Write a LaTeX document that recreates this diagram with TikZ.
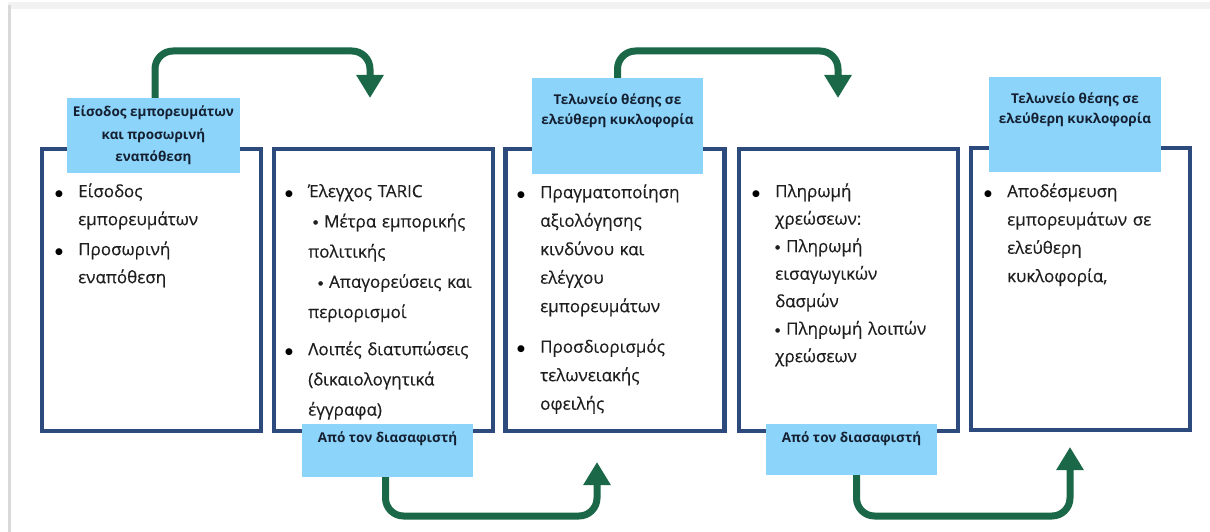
\documentclass[tikz,border=0pt]{standalone}
\usepackage{fontspec}
\setmainfont{Open Sans}
\newfontfamily\bodyfont{Open Sans}[FakeBold=0.35]
\newfontfamily\symfont{DejaVu Sans}
\usetikzlibrary{arrows.meta}
\definecolor{navy}{RGB}{44,74,124}
\definecolor{lblue}{RGB}{140,212,250}
\definecolor{flowgreen}{RGB}{26,104,72}
\definecolor{txt}{RGB}{30,30,30}
\definecolor{lbltxt}{RGB}{20,32,50}
\newcommand\itm[1]{\hangindent=23pt\hangafter=1\noindent\makebox[23pt][l]{\rule{0pt}{15pt}\raisebox{1pt}{\color{black}\symfont\fontsize{9}{9}\selectfont ●}}#1\par}
\newcommand\sbul{\raisebox{2.5pt}{\symfont\fontsize{6}{6}\selectfont ●}~}
\begin{document}
\begin{tikzpicture}[x=1pt,y=-1pt,
  mainbox/.style={draw=navy, line width=4.5pt, fill=white, minimum width=219pt, minimum height=282pt, inner sep=0pt},
  lblbox/.style={fill=lblue, inner sep=0pt},
  lbltext/.style={inner sep=0pt, align=center, text=lbltxt, font=\bfseries\fontsize{13.5}{19.5}\selectfont},
  bodytext/.style={anchor=north west, inner sep=0pt, text width=215pt, align=left, text=txt},
  flow/.style={draw=flowgreen, line width=7pt, rounded corners=18pt, -{Triangle[width=26pt,length=23pt]}}]
\useasboundingbox (0,0) rectangle (1210,532);
\fill[white] (0,0) rectangle (1210,532);
\fill[black!5] (8,2) rectangle (1210,9);
\fill[black!15] (8,5) rectangle (11,532);

% main boxes
\node[mainbox] (B1) at (151.5,290) {};
\node[mainbox] (B2) at (383.5,290) {};
\node[mainbox] (B3) at (615,290) {};
\node[mainbox] (B4) at (848.5,290) {};
\node[mainbox] (B5) at (1080.5,289) {};

% body texts
\node[bodytext, font=\bodyfont\fontsize{17}{28}\selectfont] (T1) at (55,182) {\setlength\parskip{2pt}%
\itm{Είσοδος\newline εμπορευμάτων}%
\itm{Προσωρινή\newline εναπόθεση}};
\node[bodytext, font=\bodyfont\fontsize{17}{30.2}\selectfont] (T2) at (285,182) {\setlength\parskip{7pt}%
\itm{Έλεγχος TARIC\newline\hspace*{5pt}\sbul Μέτρα εμπορικής\newline πολιτικής\newline\hspace*{10pt}\sbul Απαγορεύσεις και\newline περιορισμοί}%
\itm{Λοιπές διατυπώσεις\newline (δικαιολογητικά\newline έγγραφα)}};
\node[bodytext, font=\bodyfont\fontsize{17}{28.5}\selectfont] (T3) at (517,183) {\setlength\parskip{12pt}%
\itm{Πραγματοποίηση\newline αξιολόγησης\newline κινδύνου και\newline ελέγχου\newline εμπορευμάτων}%
\itm{Προσδιορισμός\newline τελωνειακής\newline οφειλής}};
\node[bodytext, font=\bodyfont\fontsize{17}{27.5}\selectfont] (T4) at (752,182) {%
\itm{Πληρωμή\newline χρεώσεων:\newline\sbul Πληρωμή\newline εισαγωγικών\newline δασμών\newline\sbul Πληρωμή λοιπών\newline χρεώσεων}};
\node[bodytext, font=\bodyfont\fontsize{17}{28.3}\selectfont] (T5) at (984,182) {%
\itm{Αποδέσμευση\newline εμπορευμάτων σε\newline ελεύθερη\newline κυκλοφορία,}};

% labels
\node[lblbox, minimum width=173pt, minimum height=75pt] (L1) at (153.5,135.5) {};
\node[lblbox, minimum width=171pt, minimum height=53pt] (L2) at (387.5,450.5) {};
\node[lblbox, minimum width=171pt, minimum height=96pt] (L3) at (617.5,126) {};
\node[lblbox, minimum width=171pt, minimum height=51pt] (L4) at (851.5,449.5) {};
\node[lblbox, minimum width=172pt, minimum height=95pt] (L5) at (1075,124.5) {};

\node[lbltext, anchor=north, font=\bfseries\fontsize{13.5}{22.5}\selectfont] (L1t) at ([yshift=-8pt]L1.north) {Είσοδος εμπορευμάτων\\και προσωρινή\\εναπόθεση};
\node[lbltext, anchor=base] (L2t) at ([yshift=-18.5pt]L2.north) {Από τον διασαφιστή};
\node[lbltext, anchor=north] (L3t) at ([yshift=-16pt]L3.north) {Τελωνείο θέσης σε\\ελεύθερη κυκλοφορία};
\node[lbltext, anchor=base] (L4t) at ([yshift=-18.5pt]L4.north) {Από τον διασαφιστή};
\node[lbltext, anchor=north] (L5t) at ([yshift=-16pt]L5.north) {Τελωνείο θέσης σε\\ελεύθερη κυκλοφορία};

% flow arrows
\coordinate (A1) at (370,98);
\coordinate (A2) at (597,462);
\coordinate (A3) at (838,98);
\coordinate (A4) at (1070,447);
\draw[flow] ([xshift=1.5pt]L1.north) |- (370,51) -- (A1);
\draw[flow] ([xshift=-2pt]L2.south) |- (597,516) -- (A2);
\draw[flow] (L3.north) |- (838,51) -- (A3);
\draw[flow] ([xshift=5pt]L4.south) |- (1070,516) -- (A4);
\end{tikzpicture}
\end{document}
